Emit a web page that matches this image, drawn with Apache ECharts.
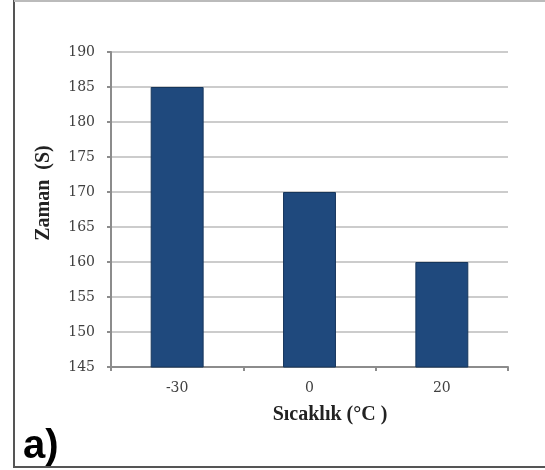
<!DOCTYPE html>
<html><head><meta charset="utf-8">
<script src="https://cdn.jsdelivr.net/npm/echarts@6/dist/echarts.min.js"></script>
<style>html,body{margin:0;padding:0;background:#fff}#c{width:545px;height:470px}</style>
</head><body><div id="c"></div>
<script>
const categories = ['-30', '0', '20'];
const values = [185, 170, 160];
const yTicks = {min: 145, max: 190, interval: 5};
const xTitle = 'Sıcaklık (°C )';
const yTitle = 'Zaman  (S)';
const panelLabel = 'a)';

const chart = echarts.init(document.getElementById('c'));
chart.setOption({
  animation: false,
  backgroundColor: '#fff',
  grid: {left: 111, right: 37, top: 52, bottom: 103},
  xAxis: {
    type: 'category', data: categories,
    axisLine: {lineStyle: {color: '#8c8c8c', width: 2}},
    axisTick: {show: true, length: 4, lineStyle: {color: '#8c8c8c', width: 2}},
    axisLabel: {margin: 14, fontFamily: 'DejaVu Serif', fontSize: 14, color: '#404040'}
  },
  yAxis: {
    type: 'value', min: yTicks.min, max: yTicks.max, interval: yTicks.interval,
    axisLine: {show: true, lineStyle: {color: '#8c8c8c', width: 2}},
    axisTick: {show: true, length: 4, lineStyle: {color: '#8c8c8c', width: 2}},
    axisLabel: {margin: 16, fontFamily: 'DejaVu Serif', fontSize: 14, color: '#404040'},
    splitLine: {lineStyle: {color: '#cccccc', width: 2}}
  },
  series: [{
    type: 'bar', data: values, barCategoryGap: '60%',
    itemStyle: {color: '#1f497d', borderColor: '#16365c', borderWidth: 1}
  }],
  graphic: [
    {type: 'rect', shape: {x: 14, y: 1, width: 540, height: 466},
     style: {fill: 'none', stroke: '#555', lineWidth: 2}, z: -1},
    {type: 'line', shape: {x1: 14, y1: 1, x2: 545, y2: 1}, style: {stroke: '#bbb', lineWidth: 2}},
    {type: 'text', x: 330, y: 415,
     style: {text: xTitle, font: 'bold 20px "Liberation Serif"', fill: '#222', textAlign: 'center', textVerticalAlign: 'middle'}},
    {type: 'text', x: 44, y: 193, rotation: Math.PI / 2,
     style: {text: yTitle, font: 'bold 20px "Liberation Serif"', fill: '#222', textAlign: 'center', textVerticalAlign: 'middle'}},
    {type: 'text', x: 23, y: 467,
     style: {text: panelLabel, font: 'bold 40px "Liberation Sans"', fill: '#000', textVerticalAlign: 'bottom'}}
  ]
});
</script></body></html>
